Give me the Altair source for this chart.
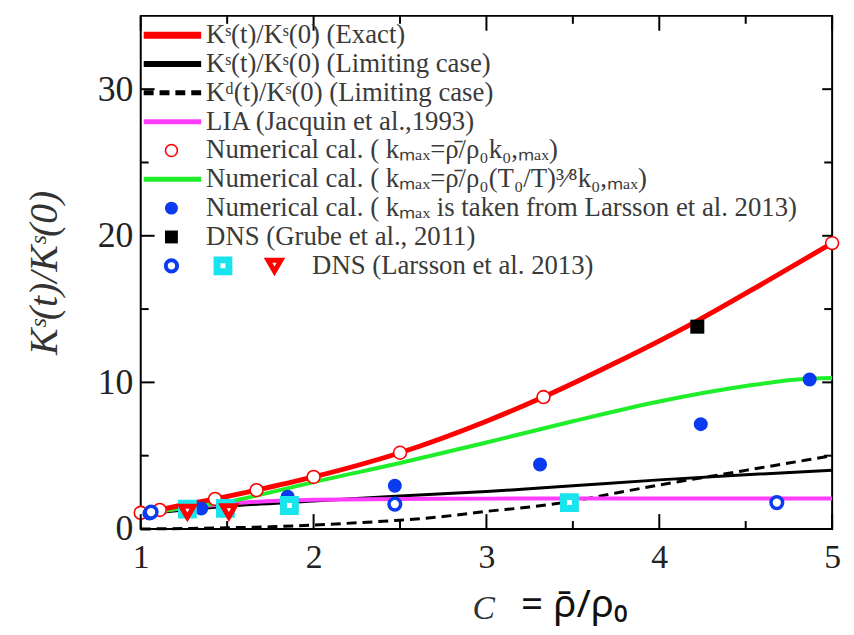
import altair as alt
import pandas as pd

# ---------------- data ----------------
C_EXACT = [1.0, 1.11, 1.25, 1.43, 1.67, 2.0, 2.5, 3.0, 3.33, 3.75, 4.22, 4.6, 5.0]
K_EXACT = [1.0, 1.3, 1.65, 2.05, 2.65, 3.55, 5.2, 7.35, 9.0, 11.35, 14.2, 16.75, 19.5]

C_LIMIT = [1.0, 1.25, 1.5, 2.0, 2.5, 3.0, 3.5, 4.0, 4.5, 5.0]
K_LIMIT = [1.0, 1.3, 1.55, 1.9, 2.25, 2.55, 2.95, 3.35, 3.7, 4.0]

C_LIMIT_D = [1.0, 1.25, 1.5, 1.75, 2.0, 2.25, 2.5, 2.75, 3.0, 3.25, 3.5, 3.75, 4.0, 4.25, 4.5, 4.75, 5.0]
K_LIMIT_D = [0.0, 0.03, 0.08, 0.15, 0.27, 0.42, 0.6, 0.85, 1.2, 1.5, 1.9, 2.45, 3.0, 3.5, 4.0, 4.5, 5.0]

C_LIA = [1.0, 1.2, 1.4, 1.6, 1.8, 2.0, 2.5, 3.0, 3.5, 4.0, 4.5, 5.0]
K_LIA = [1.0, 1.35, 1.6, 1.8, 1.93, 2.0, 2.05, 2.07, 2.08, 2.08, 2.08, 2.08]

C_GREEN = [1.0, 1.25, 1.5, 1.75, 2.0, 2.5, 3.0, 3.5, 4.0, 4.5, 4.8, 5.0]
K_GREEN = [1.0, 1.45, 1.85, 2.5, 3.2, 4.5, 5.9, 7.35, 8.7, 9.75, 10.2, 10.3]

C_NUM_RED = [1.0, 1.11, 1.43, 1.67, 2.0, 2.5, 3.33, 5.0]
K_NUM_RED = [1.1, 1.3, 2.05, 2.65, 3.55, 5.2, 9.0, 19.5]

C_NUM_BLUE = [1.05, 1.35, 1.85, 2.47, 3.31, 4.24, 4.87]
K_NUM_BLUE = [1.05, 1.4, 2.2, 2.95, 4.4, 7.15, 10.2]

C_GRUBE = [4.22]
K_GRUBE = [13.8]

C_LARS_CIRC = [1.06, 2.47, 4.68]
K_LARS_CIRC = [1.15, 1.7, 1.8]

C_LARS_SQ = [1.27, 1.49, 1.86, 3.48]
K_LARS_SQ = [1.35, 1.4, 1.6, 1.8]

C_LARS_TRI = [1.27, 1.51]
K_LARS_TRI = [1.17, 1.2]

X_TICKS = [1, 2, 3, 4, 5]
X_MINOR = [1.5, 2.5, 3.5, 4.5]
Y_TICKS = [0, 10, 20, 30]
Y_MINOR = [5, 15, 25]

LEGEND_LABELS = [
    "Kˢ(t)/Kˢ(0) (Exact)",
    "Kˢ(t)/Kˢ(0) (Limiting case)",
    "Kᵈ(t)/Kˢ(0) (Limiting case)",
    "LIA (Jacquin et al.,1993)",
    "Numerical cal. (  kₘₐₓ=ρ̄/ρ₀k₀,ₘₐₓ)",
    "Numerical cal. (  kₘₐₓ=ρ̄/ρ₀(T₀/T)³⁄⁸k₀,ₘₐₓ)",
    "Numerical cal. (  kₘₐₓ is taken from Larsson et al. 2013)",
    "DNS (Grube et al., 2011)",
    "DNS (Larsson et al. 2013)",
]
Y_TITLE = "Kˢ(t)/Kˢ(0)"
X_TITLE_C = "C"
X_TITLE_REST = "= ρ̄/ρ₀"

# ---------------- styling ----------------
W, H = 698, 518
RED = "#ff0000"
GREEN = "#1fee2a"
MAGENTA = "#ff3cff"
BLUE = "#0b3bf0"
CYAN = "#18e4ee"
SERIF = "Liberation Serif"

xs = alt.Scale(domain=[1, 5], nice=False, zero=False)
ys = alt.Scale(domain=[0, 35], nice=False, zero=False)

xaxis = alt.Axis(values=X_TICKS, format="d", ticks=False, domain=False, grid=False,
                 labelFont=SERIF, labelFontSize=34, labelColor="#222",
                 labelPadding=12, labelFlush=False, title=None)
yaxis = alt.Axis(values=Y_TICKS, format="d", ticks=False, domain=False, grid=False,
                 labelFont=SERIF, labelFontSize=36, labelColor="#222",
                 labelPadding=8, labelFlush=False,
                 title=Y_TITLE, titleFont=SERIF, titleFontStyle="italic",
                 titleFontWeight="normal", titleFontSize=40, titleColor="#333",
                 titleAngle=270, titleX=-97, titleY=H / 2,
                 titleAlign="center", titleBaseline="middle")


def X(field="x"):
    return alt.X(f"{field}:Q", scale=xs, axis=xaxis)


def Y(field="y"):
    return alt.Y(f"{field}:Q", scale=ys, axis=yaxis)


def line(cx, ky, color, width, dash=None):
    df = pd.DataFrame({"x": cx, "y": ky})
    kw = dict(color=color, strokeWidth=width, interpolate="monotone")
    if dash:
        kw["strokeDash"] = dash
    return alt.Chart(df).mark_line(**kw).encode(x=X(), y=Y())


def points(cx, ky, shape, size, fill, stroke, sw):
    df = pd.DataFrame({"x": cx, "y": ky})
    return alt.Chart(df).mark_point(shape=shape, size=size, filled=True, fill=fill,
                                    stroke=stroke, strokeWidth=sw, opacity=1,
                                    fillOpacity=1).encode(x=X(), y=Y())


def ticks(vals, orient, length):
    df = pd.DataFrame({"v": vals})
    if orient == "bottom":
        enc = dict(x=X("v"), y=alt.value(H), y2=alt.value(H - length))
    elif orient == "top":
        enc = dict(x=X("v"), y=alt.value(0), y2=alt.value(length))
    elif orient == "left":
        enc = dict(y=Y("v"), x=alt.value(0), x2=alt.value(length))
    else:
        enc = dict(y=Y("v"), x=alt.value(W), x2=alt.value(W - length))
    return alt.Chart(df).mark_rule(color="black", strokeWidth=2).encode(**enc)


dummy = pd.DataFrame({"i": [0]})
LY0, LDY = 19.5, 29.1
LX1, LX2, LXM, LXT = 3, 61, 31, 66


def ly(row):
    return LY0 + row * LDY


def lg_line(row, color, width, dash=None):
    kw = dict(color=color, strokeWidth=width)
    if dash:
        kw["strokeDash"] = dash
    return alt.Chart(dummy).mark_rule(**kw).encode(
        x=alt.value(LX1), x2=alt.value(LX2), y=alt.value(ly(row)))


def lg_point(row, xpx, shape, size, fill, stroke, sw):
    return alt.Chart(dummy).mark_point(shape=shape, size=size, filled=True, fill=fill,
                                       stroke=stroke, strokeWidth=sw, opacity=1,
                                       fillOpacity=1).encode(
        x=alt.value(xpx), y=alt.value(ly(row)))


def lg_text(row, xpx, text):
    return alt.Chart(dummy).mark_text(text=text, align="left", baseline="middle",
                                      font=SERIF, fontSize=27, color="#3a3a3a").encode(
        x=alt.value(xpx), y=alt.value(ly(row)))


layers = [
    line(C_LIMIT_D, K_LIMIT_D, "black", 3, [10, 6]),
    line(C_LIMIT, K_LIMIT, "black", 3),
    line(C_LIA, K_LIA, MAGENTA, 4),
    line(C_GREEN, K_GREEN, GREEN, 4),
    line(C_EXACT, K_EXACT, RED, 5),
    points(C_NUM_RED, K_NUM_RED, "circle", 169, "white", RED, 1.6),
    points(C_NUM_BLUE, K_NUM_BLUE, "circle", 200, BLUE, BLUE, 0),
    points(C_GRUBE, K_GRUBE, "square", 200, "black", "black", 0),
    points(C_LARS_SQ, K_LARS_SQ, "square", 144, "white", CYAN, 7),
    points(C_LARS_TRI, K_LARS_TRI, "triangle-down", 170, "white", RED, 5),
    points(C_LARS_CIRC, K_LARS_CIRC, "circle", 140, "white", BLUE, 3.5),
    ticks(X_TICKS, "bottom", 15), ticks(X_MINOR, "bottom", 8),
    ticks(X_TICKS, "top", 15), ticks(X_MINOR, "top", 8),
    ticks(Y_TICKS, "left", 14), ticks(Y_MINOR, "left", 8),
    ticks(Y_TICKS, "right", 10), ticks(Y_MINOR, "right", 8),
    # legend
    lg_line(0, RED, 7), lg_line(1, "black", 6), lg_line(2, "black", 5, [10, 6]),
    lg_line(3, MAGENTA, 5), lg_point(4, LXM, "circle", 144, "white", RED, 1.6),
    lg_line(5, GREEN, 5), lg_point(6, LXM, "circle", 169, BLUE, BLUE, 0),
    lg_point(7, LXM, "square", 169, "black", "black", 0),
    lg_point(8, LXM, "circle", 130, "white", BLUE, 4),
    lg_point(8, 83, "square", 144, "white", CYAN, 7),
    lg_point(8, 135, "triangle-down", 170, "white", RED, 5),
]
for i, lab in enumerate(LEGEND_LABELS):
    layers.append(lg_text(i, LXT if i < 8 else 173, lab))

# x-axis title (mixed fonts as in the reference)
layers.append(alt.Chart(dummy).mark_text(text=X_TITLE_C, align="left", baseline="alphabetic",
                                         font=SERIF, fontStyle="italic", fontSize=34,
                                         color="#333").encode(
    x=alt.value(335), y=alt.value(609)))
layers.append(alt.Chart(dummy).mark_text(text=X_TITLE_REST, align="left", baseline="alphabetic",
                                         font="Noto Sans", fontSize=39, color="#111").encode(
    x=alt.value(384), y=alt.value(607)))

chart = alt.layer(*layers).properties(
    width=W, height=H,
    autosize=alt.AutoSizeParams(type="none"),
    padding={"left": 134, "top": 5, "right": 14, "bottom": 96},
    background="white",
).configure_view(stroke="black", strokeWidth=2)

chart.save("out.html", embed_options={"renderer": "svg", "actions": False})
